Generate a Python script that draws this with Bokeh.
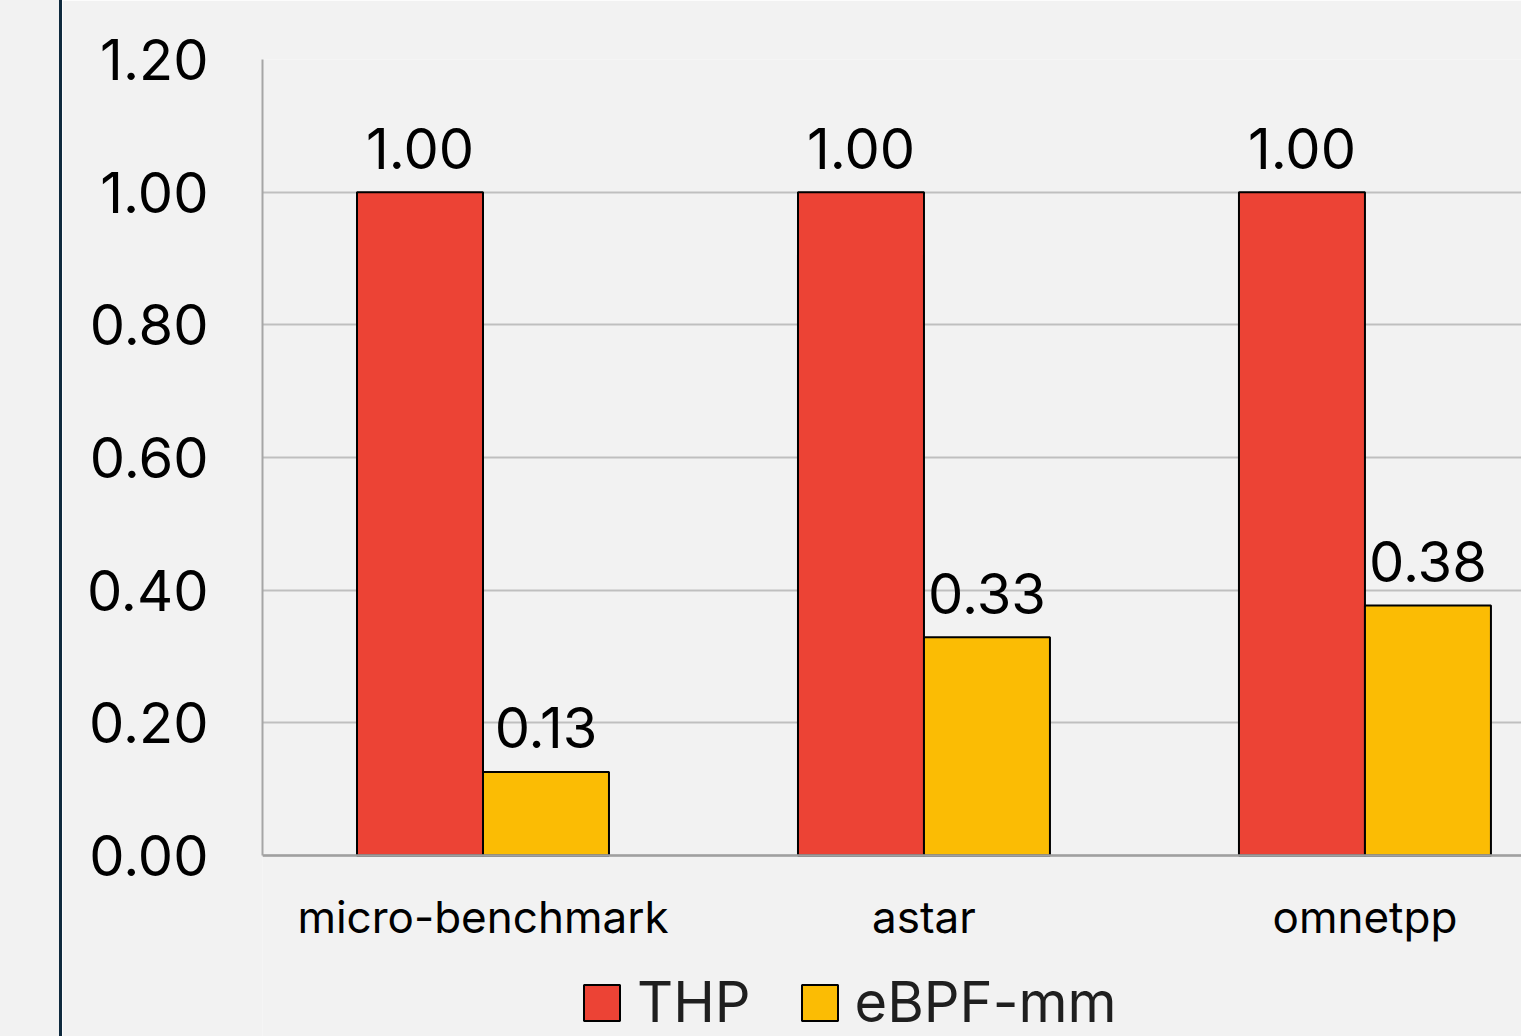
from bokeh.plotting import figure
from bokeh.models import (ColumnDataSource, Range1d, FixedTicker, PrintfTickFormatter,
                          Legend, LegendItem, LinearAxis, Div)
from bokeh.layouts import row
from bokeh.embed import file_html
from bokeh.resources import INLINE
from bokeh.core.properties import value

# ---- data ----
categories = ["micro-benchmark", "astar", "omnetpp"]
thp = [1.00, 1.00, 1.00]
ebpf_mm = [0.126, 0.329, 0.377]
y_ticks = [0.0, 0.2, 0.4, 0.6, 0.8, 1.0, 1.2]

FONT = "Inter"
BG = "#f2f2f2"
RED = "#ec4335"
YELLOW = "#fbbc04"
bar_w = 0.2857

centers = [i + 0.5 for i in range(len(categories))]
src_thp = ColumnDataSource(dict(x=[c - bar_w / 2 for c in centers], top=thp,
                                label=["%.2f" % v for v in thp]))
src_ebpf = ColumnDataSource(dict(x=[c + bar_w / 2 for c in centers], top=ebpf_mm,
                                 label=["%.2f" % v for v in ebpf_mm]))

p = figure(width=1459, height=1036, output_backend="svg", toolbar_location=None,
           x_range=Range1d(0, 2.855), y_range=Range1d(-0.2729, 1.2),
           background_fill_color=BG, border_fill_color=BG,
           min_border_left=200, min_border_right=0, min_border_top=59,
           min_border_bottom=0, x_axis_type=None)
p.outline_line_color = None

r1 = p.vbar(x="x", top="top", width=bar_w, source=src_thp, fill_color=RED,
            line_color="black", line_width=2)
r2 = p.vbar(x="x", top="top", width=bar_w, source=src_ebpf, fill_color=YELLOW,
            line_color="black", line_width=2)

for src in (src_thp, src_ebpf):
    p.text(x="x", y="top", text="label", source=src, text_align="center",
           text_baseline="alphabetic", y_offset=-44, text_font=value(FONT),
           text_font_size="56px", text_color="black")

# y axis
yax = p.yaxis[0]
yax.ticker = FixedTicker(ticks=y_ticks)
yax.bounds = (0, 1.2)
yax.formatter = PrintfTickFormatter(format="%.2f")
yax.major_label_text_font = FONT
yax.major_label_text_font_size = "56px"
yax.major_label_text_color = "black"
yax.major_label_standoff = 48
yax.axis_line_color = "#a6a6a6"
yax.axis_line_width = 2
yax.major_tick_line_color = None
yax.minor_tick_line_color = None

# x axis (category axis sitting at y = 0)
xax = LinearAxis(ticker=FixedTicker(ticks=centers), fixed_location=0,
                 major_label_overrides={c: n for c, n in zip(centers, categories)})
xax.major_label_text_font = FONT
xax.major_label_text_font_size = "44px"
xax.major_label_text_color = "black"
xax.major_label_standoff = 29
xax.axis_line_color = "#a0a0a0"
xax.axis_line_width = 2.5
xax.major_tick_line_color = None
xax.minor_tick_line_color = None
p.add_layout(xax, "below")

p.xgrid.visible = False
p.ygrid.ticker = FixedTicker(ticks=y_ticks)
p.ygrid.grid_line_color = "#bfbfbf"
p.ygrid.grid_line_width = 2

legend = Legend(items=[LegendItem(label="THP", renderers=[r1]),
                       LegendItem(label="eBPF-mm", renderers=[r2])],
                orientation="horizontal", location=(317, 0),
                glyph_width=45, glyph_height=45, label_standoff=13, spacing=46,
                label_text_font=FONT, label_text_font_size="56px",
                label_text_color="#1f1f1f", background_fill_alpha=0,
                border_line_color=None, padding=0, margin=0)
p.add_layout(legend, "center")

left_pad = Div(width=59, height=1036, margin=0, styles={"background-color": BG})
vline = Div(width=3, height=1036, margin=0, styles={"background-color": "#0f2a3e"})
layout = row(left_pad, vline, p, spacing=0)

open("out.html", "w").write(file_html(layout, INLINE))
